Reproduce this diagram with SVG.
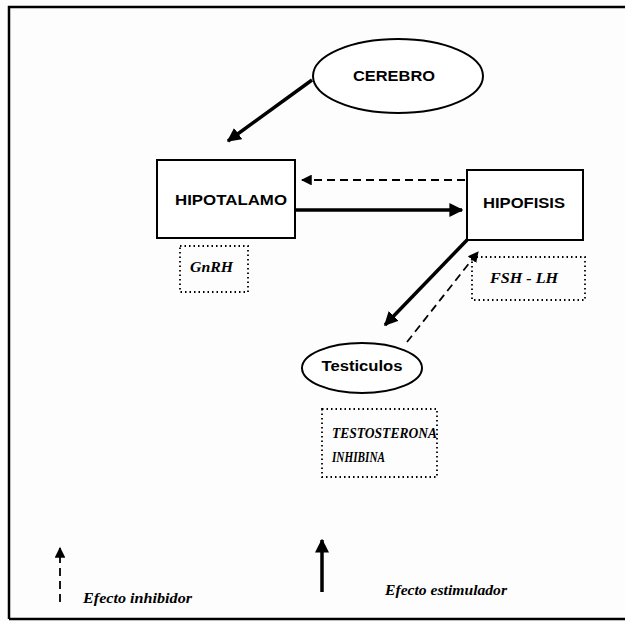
<svg xmlns="http://www.w3.org/2000/svg" width="625" height="621" viewBox="0 0 625 621">
<style>
.bg{fill:#fdfdfd}
.node{fill:#fff;stroke:#000;stroke-width:2}
.box{fill:none;stroke:#000;stroke-width:1.8;stroke-dasharray:1.5 3}
.lbl{font-family:"Liberation Sans",Arial,sans-serif;font-weight:bold;font-size:14px;fill:#000;text-anchor:middle;dominant-baseline:central}
.it{font-family:"Liberation Serif","Times New Roman",serif;font-style:italic;font-weight:bold;font-size:14px;fill:#000}
.leg{font-size:15px}
.solid{stroke:#000;stroke-width:3.5;fill:none}
.dash{stroke:#000;stroke-width:1.8;fill:none;stroke-dasharray:8 5}
</style>
<defs>
<marker id="ah" viewBox="0 0 10 10" refX="9" refY="5" markerWidth="4" markerHeight="4" orient="auto" markerUnits="strokeWidth">
<path d="M0,0 L10,5 L0,10 z" fill="#000"/>
</marker>
<marker id="ahd" viewBox="0 0 10 10" refX="9" refY="5" markerWidth="6" markerHeight="6" orient="auto" markerUnits="strokeWidth">
<path d="M0,0 L10,5 L0,10 z" fill="#000"/>
</marker>
</defs>
<rect class="bg" x="0" y="0" width="625" height="621"/>
<path d="M9,619 V7 H625 M9,619 H625" fill="none" stroke="#000" stroke-width="2.5"/>
<g id="connectors">
<line class="solid" x1="312" y1="80" x2="228" y2="141" marker-end="url(#ah)"/>
<line class="solid" x1="295" y1="210" x2="462" y2="210" marker-end="url(#ah)"/>
<line class="dash" x1="465" y1="180" x2="302" y2="180" marker-end="url(#ahd)"/>
<line class="solid" x1="467" y1="240" x2="385" y2="325" marker-end="url(#ah)"/>
<line class="dash" x1="407" y1="342" x2="478" y2="252" marker-end="url(#ahd)"/>
</g>
<g id="cerebro">
<ellipse class="node" cx="398" cy="76" rx="85" ry="37"/>
<text class="lbl" x="394" y="76" textLength="82" lengthAdjust="spacingAndGlyphs">CEREBRO</text>
</g>
<g id="hipotalamo">
<rect class="node" x="157" y="160" width="138" height="78"/>
<text class="lbl" x="231" y="200" textLength="112" lengthAdjust="spacingAndGlyphs">HIPOTALAMO</text>
</g>
<g id="gnrh">
<rect class="box" x="180" y="246" width="68" height="46"/>
<text class="it" x="190" y="272" textLength="43" lengthAdjust="spacingAndGlyphs">GnRH</text>
</g>
<g id="hipofisis">
<rect class="node" x="467" y="170" width="116" height="70"/>
<text class="lbl" x="524" y="203" textLength="82" lengthAdjust="spacingAndGlyphs">HIPOFISIS</text>
</g>
<g id="fsh-lh">
<rect class="box" x="472" y="257" width="113" height="43"/>
<text class="it" x="490" y="283" textLength="68" lengthAdjust="spacingAndGlyphs">FSH - LH</text>
</g>
<g id="testiculos">
<ellipse class="node" cx="362" cy="368" rx="60" ry="25"/>
<text class="lbl" x="362" y="366" textLength="81" lengthAdjust="spacingAndGlyphs">Testiculos</text>
</g>
<g id="testosterona">
<rect class="box" x="322" y="409" width="115" height="68"/>
<text class="it" x="332" y="438" textLength="105" lengthAdjust="spacingAndGlyphs">TESTOSTERONA</text>
<text class="it" x="332" y="462" textLength="53" lengthAdjust="spacingAndGlyphs">INHIBINA</text>
</g>
<g id="legend">
<line class="dash" x1="60" y1="602" x2="60" y2="548" stroke-dasharray="6 7" marker-end="url(#ahd)"/>
<text class="it leg" x="83" y="603" textLength="109" lengthAdjust="spacingAndGlyphs">Efecto inhibidor</text>
<line class="solid" x1="322" y1="592" x2="322" y2="540" stroke-width="3" marker-end="url(#ah)"/>
<text class="it leg" x="385" y="595" textLength="122" lengthAdjust="spacingAndGlyphs">Efecto estimulador</text>
</g>
</svg>
